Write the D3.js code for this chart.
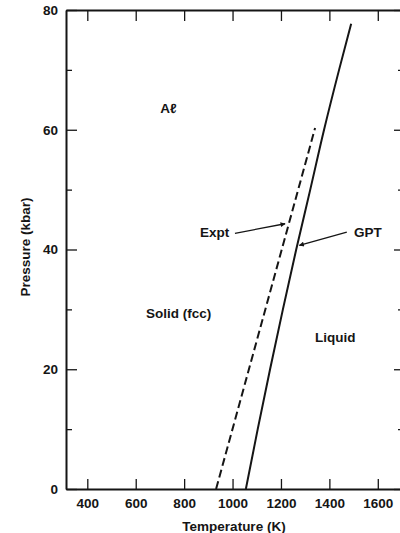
<!DOCTYPE html>
<html>
<head>
<meta charset="utf-8">
<script src="https://cdn.jsdelivr.net/npm/d3@7"></script>
<style>
  body { margin: 0; background: #fff; }
  svg { display: block; font-family: "Liberation Sans", Arial, sans-serif; font-weight: bold; }
</style>
</head>
<body>
<svg width="400" height="533"></svg>
<script>
// melting curve of Al (T in K, P in kbar)
const gptT = [1055, 1104, 1155, 1208, 1263, 1321, 1378, 1440, 1490];
const gptP = [0, 10, 20, 30, 40, 50, 60, 70, 77.7];
const exptT = [932, 1341];
const exptP = [0, 60.3];

const xTicks = [400, 600, 800, 1000, 1200, 1400, 1600];
const yTicks = [0, 20, 40, 60, 80];
const yMinor = [10, 30, 50, 70];

// region labels and arrows
const labels = [
  { t: "A\u2113", T: 735, P: 63.6, anchor: "middle" },
  { t: "Solid (fcc)", T: 777, P: 29.4, anchor: "middle" },
  { t: "Liquid", T: 1424, P: 25.4, anchor: "middle" },
  { t: "Expt", T: 986, P: 42.9, anchor: "end" },
  { t: "GPT", T: 1502, P: 42.9, anchor: "start" }
];
const arrows = [
  { T0: 1010, P0: 42.7, T1: 1217, P1: 44.3 },
  { T0: 1472, P0: 42.9, T1: 1276, P1: 40.7 }
];

const svg = d3.select("svg");
const ink = "#151515";
const fs = "13.5px";

const x = d3.scaleLinear().domain([312, 1700]).range([66, 402]);
const y = d3.scaleLinear().domain([0, 80]).range([489, 10]);

// axes (ticks point inward)
function styleAxis(g) {
  g.selectAll("path").attr("stroke", ink).attr("stroke-width", 2);
  g.selectAll("line").attr("stroke", ink).attr("stroke-width", 1.3);
  g.selectAll("text").attr("fill", ink).style("font-size", fs)
    .style("font-family", "'Liberation Sans', Arial, sans-serif").style("font-weight", "bold");
}

svg.append("g").attr("transform", "translate(0,489)")
  .call(d3.axisBottom(x).tickValues(xTicks).tickFormat(d3.format("d"))
    .tickSizeInner(-10).tickSizeOuter(0).tickPadding(9))
  .call(styleAxis);
svg.append("g").attr("transform", "translate(0,10)")
  .call(d3.axisTop(x).tickValues(xTicks).tickSizeInner(-11).tickSizeOuter(0).tickFormat(""))
  .call(styleAxis);
svg.append("g").attr("transform", "translate(66,0)")
  .call(d3.axisLeft(y).tickValues(yTicks).tickFormat(d3.format("d"))
    .tickSizeInner(-11).tickSizeOuter(0).tickPadding(8))
  .call(styleAxis);
svg.append("g").attr("transform", "translate(66,0)")
  .call(d3.axisLeft(y).tickValues(yMinor).tickSizeInner(-6).tickSizeOuter(0).tickFormat(""))
  .call(g => g.select(".domain").remove())
  .call(styleAxis);
svg.append("g").attr("transform", "translate(402,0)")
  .call(d3.axisRight(y).tickValues(yTicks).tickSizeInner(-8).tickSizeOuter(0).tickFormat(""))
  .call(styleAxis);
svg.append("g").attr("transform", "translate(402,0)")
  .call(d3.axisRight(y).tickValues(yMinor).tickSizeInner(-4).tickSizeOuter(0).tickFormat(""))
  .call(g => g.select(".domain").remove())
  .call(styleAxis);

// axis titles
svg.append("text")
  .attr("x", 234).attr("y", 531)
  .attr("text-anchor", "middle")
  .style("font-size", fs).attr("fill", ink)
  .text("Temperature (K)");
svg.append("text")
  .attr("transform", "translate(30,247)rotate(-90)")
  .attr("text-anchor", "middle")
  .style("font-size", fs).attr("fill", ink)
  .text("Pressure (kbar)");

// curves
const line = d3.line().x(d => x(d[0])).y(d => y(d[1])).curve(d3.curveMonotoneY);
svg.append("path")
  .datum(gptT.map((t, i) => [t, gptP[i]]))
  .attr("d", line)
  .attr("fill", "none").attr("stroke", ink).attr("stroke-width", 2);
svg.append("path")
  .datum(exptT.map((t, i) => [t, exptP[i]]))
  .attr("d", line)
  .attr("fill", "none").attr("stroke", ink).attr("stroke-width", 2)
  .attr("stroke-dasharray", "8,4");

// arrow marker
svg.append("defs").append("marker")
  .attr("id", "head").attr("viewBox", "0 0 10 10")
  .attr("refX", 9).attr("refY", 5)
  .attr("markerWidth", 7).attr("markerHeight", 5)
  .attr("markerUnits", "userSpaceOnUse")
  .attr("orient", "auto")
  .append("path").attr("d", "M0,0L10,5L0,10Z").attr("fill", ink);

svg.selectAll(".arrow").data(arrows).enter().append("line")
  .attr("x1", d => x(d.T0)).attr("y1", d => y(d.P0))
  .attr("x2", d => x(d.T1)).attr("y2", d => y(d.P1))
  .attr("stroke", ink).attr("stroke-width", 1.3)
  .attr("marker-end", "url(#head)");

svg.selectAll(".lab").data(labels).enter().append("text")
  .attr("x", d => x(d.T)).attr("y", d => y(d.P))
  .attr("dy", "0.35em")
  .attr("text-anchor", d => d.anchor)
  .style("font-size", fs).attr("fill", ink)
  .text(d => d.t);
</script>
</body>
</html>
